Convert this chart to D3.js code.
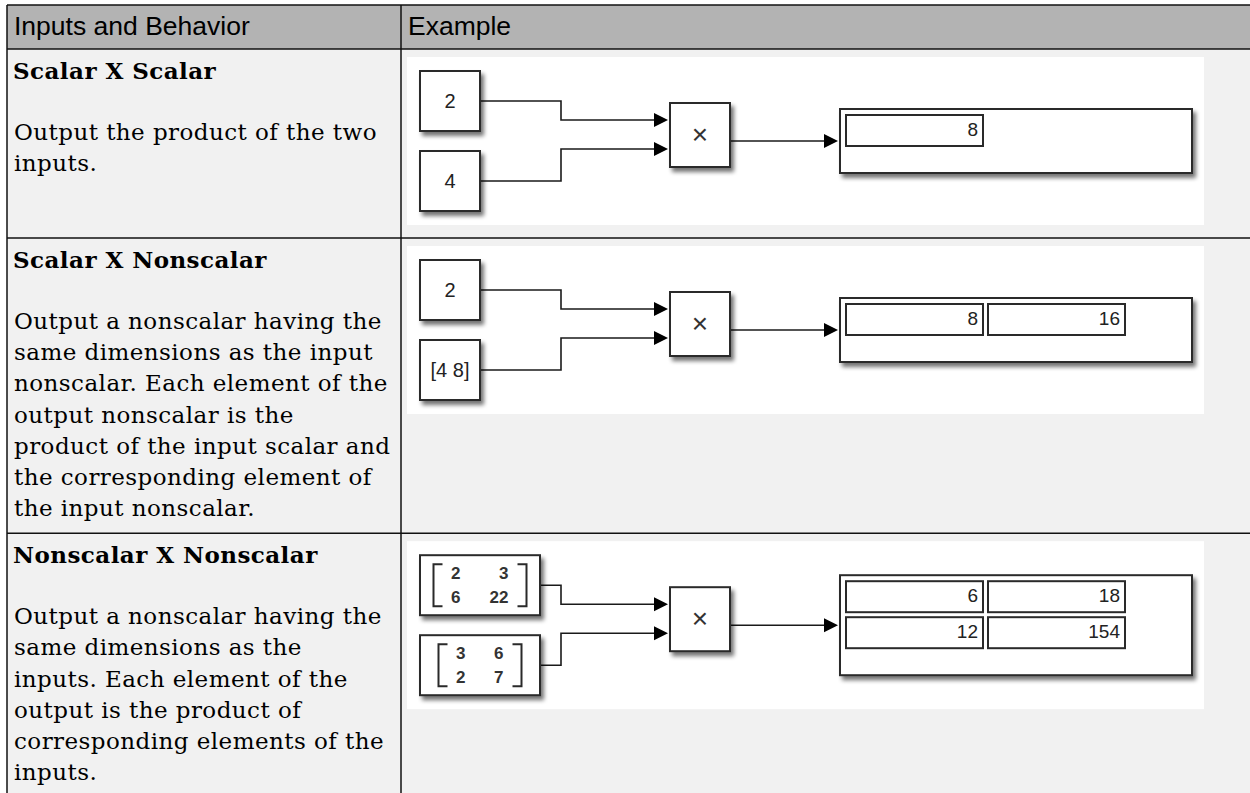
<!DOCTYPE html>
<html><head><meta charset="utf-8">
<script src="https://cdn.jsdelivr.net/npm/d3@7"></script>
<style>html,body{margin:0;padding:0;background:#fff;overflow:hidden} svg{display:block}</style>
</head><body>
<svg id="c" width="1250" height="793"></svg>
<script>
// ---- data ----
const headers = ["Inputs and Behavior", "Example"];
const titles = ["Scalar X Scalar", "Scalar X Nonscalar", "Nonscalar X Nonscalar"];
const descriptions = [
  ["Output the product of the two", "inputs."],
  ["Output a nonscalar having the", "same dimensions as the input", "nonscalar. Each element of the", "output nonscalar is the", "product of the input scalar and", "the corresponding element of", "the input nonscalar."],
  ["Output a nonscalar having the", "same dimensions as the", "inputs. Each element of the", "output is the product of", "corresponding elements of the", "inputs."]
];
const inputA = [[[2]], [[2]], [[2, 3], [6, 22]]];
const inputB = [[[4]], [[4, 8]], [[3, 6], [2, 7]]];
const outputs = [[[8]], [[8, 16]], [[6, 18], [12, 154]]];
const operatorSymbol = "×";

// ---- layout ----
const W = 1250, H = 793;
const tableLeft = 7, tableTop = 5, headerH = 44, colSplit = 401;
const titleOffset = 30, bodyOffset = 61, lineH = 31.2;
const panelPadTop = 8, panelH = 168;
const serif = "'DejaVu Serif', serif";
const sans = "'Liberation Sans', Arial, sans-serif";
const bodySize = 23, bodySpacing = 0.45;

const svg = d3.select("#c");
const defs = svg.append("defs");
const f = defs.append("filter").attr("id", "sh").attr("x", "-10%").attr("y", "-10%").attr("width", "130%").attr("height", "140%");
f.append("feGaussianBlur").attr("in", "SourceAlpha").attr("stdDeviation", 2.2).attr("result", "b");
f.append("feOffset").attr("in", "b").attr("dx", 3).attr("dy", 4).attr("result", "o");
f.append("feComponentTransfer").attr("in", "o").attr("result", "o2")
  .append("feFuncA").attr("type", "linear").attr("slope", 0.55);
const fm = f.append("feMerge");
fm.append("feMergeNode").attr("in", "o2");
fm.append("feMergeNode").attr("in", "SourceGraphic");

// compute row tops
const rowTops = [];
let y = tableTop + headerH;
titles.forEach((t, i) => {
  rowTops.push(y);
  const lastBase = titleOffset + bodyOffset + (descriptions[i].length - 1) * lineH;
  const h = Math.max(lastBase + 17, panelPadTop + panelH + 13);
  y += h;
});

// backgrounds
svg.append("rect").attr("x", tableLeft).attr("y", tableTop).attr("width", W - tableLeft + 5).attr("height", headerH).attr("fill", "#b3b3b3");
svg.append("rect").attr("x", tableLeft).attr("y", tableTop + headerH).attr("width", W - tableLeft + 5).attr("height", H).attr("fill", "#f1f1f1");

// header text
const colX = [tableLeft + 7, colSplit + 7];
svg.selectAll("text.hdr").data(headers).join("text").attr("class", "hdr")
  .attr("x", (d, i) => colX[i]).attr("y", tableTop + 30)
  .attr("font-family", sans).attr("font-size", 26.5).attr("fill", "#000").text(d => d);

// rows
titles.forEach((t, i) => {
  const top = rowTops[i];
  const g = svg.append("g");
  g.append("text").attr("x", colX[0] - 1).attr("y", top + titleOffset)
    .attr("font-family", serif).attr("font-weight", "bold").attr("font-size", bodySize)
    .attr("letter-spacing", bodySpacing).attr("fill", "#000").text(t);
  g.selectAll("text.body").data(descriptions[i]).join("text").attr("class", "body")
    .attr("x", colX[0]).attr("y", (d, k) => top + titleOffset + bodyOffset + k * lineH)
    .attr("font-family", serif).attr("font-size", bodySize).attr("letter-spacing", bodySpacing)
    .attr("fill", "#000").text(d => d);
  drawDiagram(i, top + panelPadTop);
});

// grid lines
const gl = svg.append("g").attr("stroke", "#111").attr("stroke-width", 1.5).attr("fill", "none");
gl.append("line").attr("x1", tableLeft).attr("x2", W + 5).attr("y1", tableTop).attr("y2", tableTop);
gl.append("line").attr("x1", tableLeft).attr("x2", tableLeft).attr("y1", tableTop).attr("y2", H + 5);
gl.append("line").attr("x1", colSplit).attr("x2", colSplit).attr("y1", tableTop).attr("y2", H + 5);
[tableTop + headerH, ...rowTops.slice(1)].forEach(yy =>
  gl.append("line").attr("x1", tableLeft).attr("x2", W + 5).attr("y1", yy).attr("y2", yy));

function label(m) {
  if (m.length === 1 && m[0].length === 1) return String(m[0][0]);
  if (m.length === 1) return "[" + m[0].join(" ") + "]";
  return null;
}

function drawDiagram(i, py) {
  const px = 407;
  const g = svg.append("g").attr("transform", `translate(${px},${py})`);
  g.append("rect").attr("x", 0).attr("y", 0).attr("width", 797).attr("height", panelH).attr("fill", "#fff");
  const blockX = 13, blockH = 60;
  const ins = [inputA[i], inputB[i]];
  const centers = [44, 124];
  const elbowX = 154, prodX = 263, prodW = 60, prodY = 46, prodH = 64;
  const ports = [prodY + 17, prodY + 46];
  const lines = g.append("g").attr("fill", "none").attr("stroke", "#1a1a1a").attr("stroke-width", 1.6);
  const heads = g.append("g").attr("fill", "#000");
  const arrow = (tx, ty) => heads.append("path").attr("d", `M${tx},${ty} L${tx - 14},${ty - 7} L${tx - 14},${ty + 7} Z`);

  ins.forEach((m, k) => {
    const isMat = m.length > 1;
    const bw = isMat ? 120 : 60;
    const cy = centers[k];
    g.append("rect").attr("x", blockX).attr("y", cy - blockH / 2).attr("width", bw).attr("height", blockH)
      .attr("fill", "#fff").attr("stroke", "#2a2a2a").attr("stroke-width", 2).attr("filter", "url(#sh)");
    const lab = label(m);
    if (lab !== null) {
      g.append("text").attr("x", blockX + bw / 2).attr("y", cy + 7).attr("text-anchor", "middle")
        .attr("font-family", sans).attr("font-size", 20).attr("fill", "#222").text(lab);
    } else {
      const charW = 10, gap = 28, padL = 17, padR = 18;
      const ncol = m[0].length;
      const colW = d3.range(ncol).map(c => d3.max(m, r => String(r[c]).length) * charW);
      const total = padL + d3.sum(colW) + gap * (ncol - 1) + padR;
      const left = blockX + bw / 2 - total / 2;
      const right = left + total;
      const bt = cy - 21, bb = cy + 21;
      const br = g.append("g").attr("fill", "none").attr("stroke", "#2a2a2a").attr("stroke-width", 2);
      br.append("path").attr("d", `M${left + 9},${bt} H${left} V${bb} H${left + 9}`);
      br.append("path").attr("d", `M${right - 9},${bt} H${right} V${bb} H${right - 9}`);
      let xr = left + padL;
      const colRight = colW.map((w, c) => { xr += w; const v = xr; xr += gap; return v; });
      m.forEach((row, r) => row.forEach((v, c) => {
        g.append("text").attr("x", colRight[c]).attr("y", cy - 6 + r * 24).attr("text-anchor", "end")
          .attr("font-family", sans).attr("font-size", 17).attr("font-weight", "bold").attr("fill", "#333").text(v);
      }));
    }
    lines.append("path").attr("d", `M${blockX + bw},${cy} H${elbowX} V${ports[k]} H${prodX - 16}`);
    arrow(prodX - 2, ports[k]);
  });

  g.append("rect").attr("x", prodX).attr("y", prodY).attr("width", prodW).attr("height", prodH)
    .attr("fill", "#fff").attr("stroke", "#2a2a2a").attr("stroke-width", 2).attr("filter", "url(#sh)");
  g.append("text").attr("x", prodX + prodW / 2).attr("y", prodY + prodH / 2 + 9).attr("text-anchor", "middle")
    .attr("font-family", sans).attr("font-size", 28).attr("fill", "#333").text(operatorSymbol);

  // display
  const out = outputs[i];
  const nr = out.length;
  const dispCY = 84, dispX = 433, dispW = 352;
  const fieldH = 31, rowPitch = 36, colPitch = 142, fieldW = 137;
  const dispH = 6 + nr * fieldH + (nr - 1) * (rowPitch - fieldH) + 27;
  const dispY = dispCY - dispH / 2;
  lines.append("path").attr("d", `M${prodX + prodW},${dispCY} H${dispX - 16}`);
  arrow(dispX - 2, dispCY);
  g.append("rect").attr("x", dispX).attr("y", dispY).attr("width", dispW).attr("height", dispH)
    .attr("fill", "#fff").attr("stroke", "#2a2a2a").attr("stroke-width", 2).attr("filter", "url(#sh)");
  out.forEach((row, r) => row.forEach((v, c) => {
    const fx = dispX + 6 + c * colPitch, fy = dispY + 6 + r * rowPitch;
    g.append("rect").attr("x", fx).attr("y", fy).attr("width", fieldW).attr("height", fieldH)
      .attr("fill", "#fff").attr("stroke", "#2a2a2a").attr("stroke-width", 2);
    g.append("text").attr("x", fx + fieldW - 5).attr("y", fy + 21).attr("text-anchor", "end")
      .attr("font-family", sans).attr("font-size", 19).attr("fill", "#222").text(v);
  }));
}
</script>
</body></html>
